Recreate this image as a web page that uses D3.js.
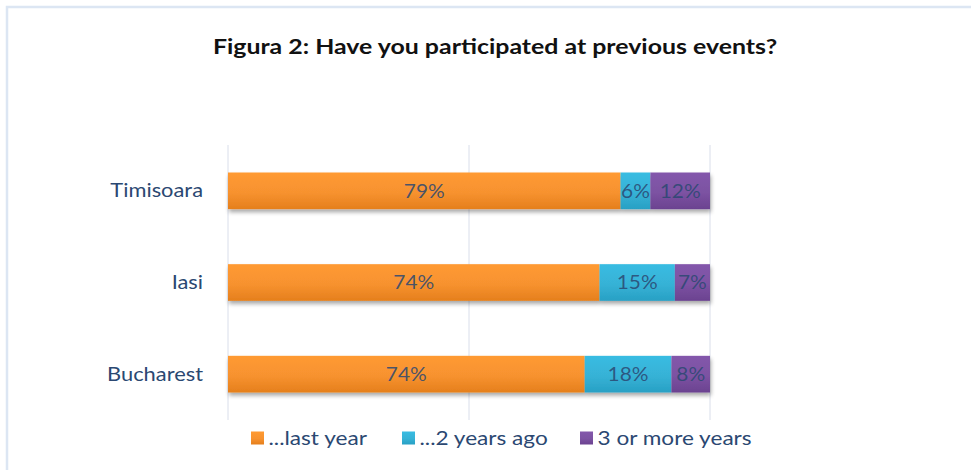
<!DOCTYPE html>
<html>
<head>
<meta charset="utf-8">
<script src="https://cdn.jsdelivr.net/npm/d3@7"></script>
<style>
  html, body { margin: 0; padding: 0; background: #fff; }
  svg { display: block; }
</style>
</head>
<body>
<svg id="chart" width="971" height="470"></svg>
<script>
// Survey answers per city (percent of respondents)
const cities = ["Timisoara", "Iasi", "Bucharest"];
const seriesNames = ["...last year", "...2 years ago", "3 or more years"];
const lastYear = [79, 74, 74];
const twoYearsAgo = [6, 15, 18];
const threeOrMore = [12, 7, 8];
const axisTicks = [0, 0.5, 1];

const colors = ["#F7922F", "#36B2D6", "#7C52A2"];
const colorsDark = ["#E57F1C", "#28A0C4", "#6B4290"];
const textColor = "#2B4872";
const font = "Lato, 'Open Sans', sans-serif";

// widen text a little (the typeface set here is a wide, Calibri-like face)
function stretch(sel, factor) {
  sel.each(function () {
    const w = this.getComputedTextLength();
    d3.select(this).attr("textLength", w * factor).attr("lengthAdjust", "spacingAndGlyphs");
  });
}

const svg = d3.select("#chart");
const defs = svg.append("defs");

// vertical gradients give the bars their slight 3D look
colors.forEach((c, i) => {
  const g = defs.append("linearGradient")
    .attr("id", "grad" + i).attr("x1", 0).attr("y1", 0).attr("x2", 0).attr("y2", 1);
  g.append("stop").attr("offset", "0%").attr("stop-color", d3.color(c).brighter(0.15));
  g.append("stop").attr("offset", "55%").attr("stop-color", c);
  g.append("stop").attr("offset", "100%").attr("stop-color", colorsDark[i]);
});
const shadow = defs.append("filter").attr("id", "shadow")
  .attr("x", "-5%").attr("y", "-30%").attr("width", "110%").attr("height", "170%");
shadow.append("feGaussianBlur").attr("in", "SourceAlpha").attr("stdDeviation", 2);
shadow.append("feOffset").attr("dx", 1).attr("dy", 3).attr("result", "blur");
shadow.append("feComponentTransfer").append("feFuncA").attr("type", "linear").attr("slope", 0.35);
const merge = shadow.append("feMerge");
merge.append("feMergeNode");
merge.append("feMergeNode").attr("in", "SourceGraphic");

// chart frame (top and left edge)
svg.append("rect").attr("x", 7).attr("y", 7).attr("width", 980).attr("height", 480)
  .attr("fill", "#fff").attr("stroke", "#DCE6F3").attr("stroke-width", 2.5);

svg.append("text")
  .attr("x", 495).attr("y", 54)
  .attr("text-anchor", "middle")
  .attr("font-family", font)
  .attr("font-weight", "bold")
  .attr("font-size", 21)
  .attr("fill", "#111")
  .text("Figura 2: Have you participated at previous events?")
  .call(stretch, 1.185);

const rows = cities.map((city, i) => ({
  city,
  values: [lastYear[i], twoYearsAgo[i], threeOrMore[i]]
}));

const x = d3.scaleLinear().domain([0, 1]).range([228, 710]);
const y = d3.scaleBand().domain(cities).range([145, 420]).paddingInner(0.6).paddingOuter(0.3);

// vertical gridlines
svg.append("g").selectAll("line").data(axisTicks).join("line")
  .attr("x1", d => x(d)).attr("x2", d => x(d))
  .attr("y1", 145).attr("y2", 420)
  .attr("stroke", "#D9DEEA").attr("stroke-width", 1);

// category axis labels
svg.append("g").selectAll("text").data(cities).join("text")
  .attr("x", 203)
  .attr("y", d => y(d) + y.bandwidth() / 2)
  .attr("dy", "0.35em")
  .attr("text-anchor", "end")
  .attr("font-family", font)
  .attr("font-size", 19)
  .attr("fill", textColor)
  .text(d => d)
  .call(stretch, 1.15);

// stacked segments, normalised to each city's total
const segs = [];
rows.forEach(r => {
  const total = d3.sum(r.values);
  let acc = 0;
  r.values.forEach((v, k) => {
    segs.push({ city: r.city, k, v, x0: acc / total, x1: (acc + v) / total });
    acc += v;
  });
});

const barG = svg.append("g").attr("filter", "url(#shadow)");
barG.selectAll("rect").data(segs).join("rect")
  .attr("x", d => x(d.x0))
  .attr("width", d => x(d.x1) - x(d.x0))
  .attr("y", d => y(d.city))
  .attr("height", y.bandwidth())
  .attr("fill", d => `url(#grad${d.k})`);

svg.append("g").selectAll("text").data(segs).join("text")
  .attr("x", d => (x(d.x0) + x(d.x1)) / 2)
  .attr("y", d => y(d.city) + y.bandwidth() / 2)
  .attr("dy", "0.36em")
  .attr("text-anchor", "middle")
  .attr("font-family", font)
  .attr("font-size", 19)
  .attr("fill", textColor)
  .attr("fill-opacity", 0.85)
  .text(d => d.v + "%")
  .call(stretch, 1.1);

// legend
const legendX = [251, 402, 580];
const lg = svg.append("g").selectAll("g").data(seriesNames).join("g")
  .attr("transform", (d, i) => `translate(${legendX[i]},438)`);
lg.append("rect").attr("x", 0).attr("y", -6.5).attr("width", 13).attr("height", 13)
  .attr("fill", (d, i) => `url(#grad${i})`);
lg.append("text").attr("x", 17.5).attr("dy", "0.35em")
  .attr("font-family", font)
  .attr("font-size", 19)
  .attr("fill", textColor)
  .text(d => d)
  .call(stretch, 1.19);
</script>
</body>
</html>
